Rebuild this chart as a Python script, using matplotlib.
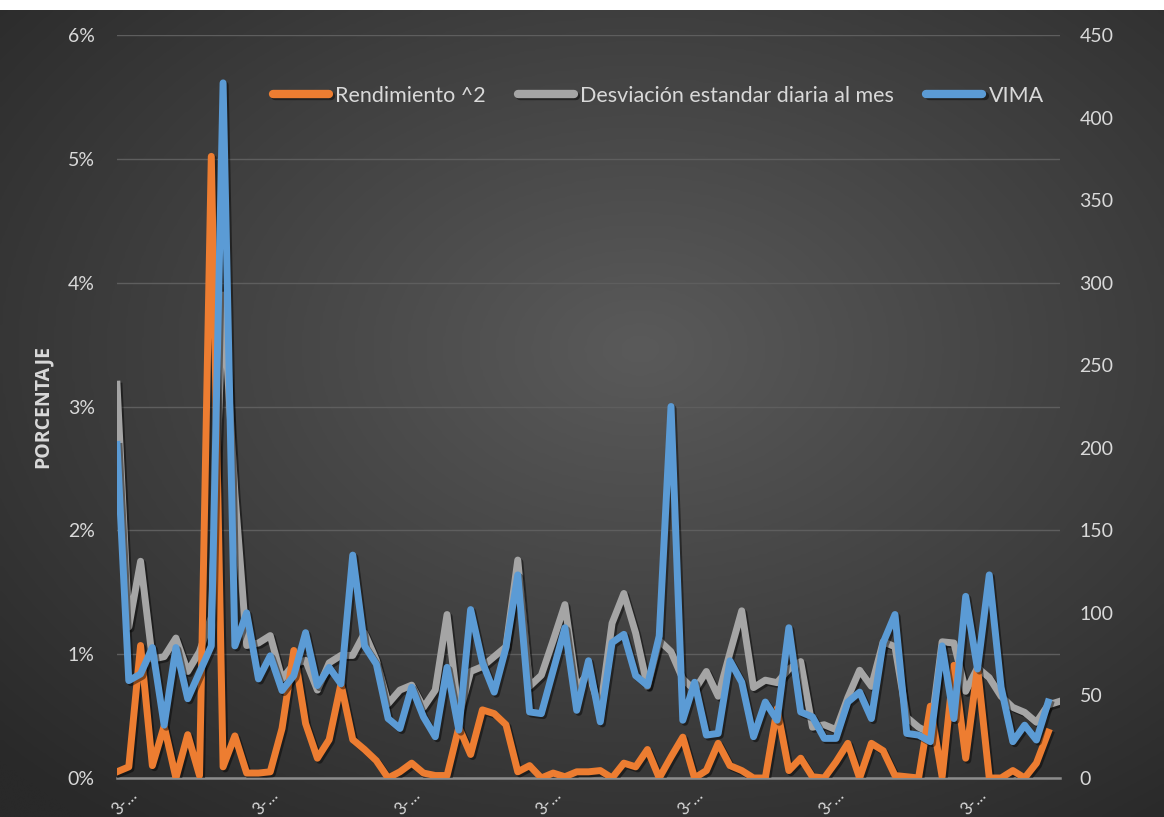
import numpy as np
import matplotlib.pyplot as plt
import matplotlib.patheffects as pe
import matplotlib.transforms as mtransforms
from matplotlib.colors import LinearSegmentedColormap
from matplotlib.ticker import FuncFormatter

# Rendimiento al cuadrado (%), eje izquierdo
rendimiento = [0.05, 0.09, 1.07, 0.10, 0.42, 0.00, 0.35, 0.02, 5.02, 0.09,
               0.34, 0.04, 0.04, 0.05, 0.40, 1.03, 0.44, 0.16, 0.31, 0.76,
               0.31, 0.23, 0.14, 0.00, 0.05, 0.12, 0.04, 0.02, 0.02, 0.41,
               0.19, 0.55, 0.52, 0.43, 0.05, 0.10, 0.00, 0.04, 0.01, 0.05,
               0.05, 0.06, 0.00, 0.12, 0.09, 0.23, 0.00, 0.17, 0.33, 0.00,
               0.06, 0.28, 0.10, 0.06, 0.00, 0.00, 0.56, 0.06, 0.16, 0.01,
               0.00, 0.13, 0.28, 0.00, 0.28, 0.22, 0.02, 0.01, 0.00, 0.58,
               0.01, 0.91, 0.16, 0.89, 0.00, 0.00, 0.06, 0.00, 0.12, 0.37]

# Desviacion estandar diaria al mes (%), eje izquierdo
desviacion = [3.18, 1.22, 1.75, 0.96, 0.98, 1.13, 0.86, 1.02, 1.30, 3.90,
              2.30, 1.07, 1.09, 1.15, 0.80, 0.92, 0.95, 0.71, 0.93, 0.99,
              0.99, 1.17, 0.95, 0.60, 0.71, 0.75, 0.57, 0.71, 1.32, 0.50,
              0.86, 0.90, 0.98, 1.06, 1.76, 0.74, 0.83, 1.11, 1.40, 0.73,
              0.85, 0.55, 1.25, 1.49, 1.17, 0.74, 1.11, 1.02, 0.80, 0.71,
              0.86, 0.66, 1.01, 1.35, 0.73, 0.79, 0.77, 0.88, 0.94, 0.41,
              0.43, 0.39, 0.65, 0.87, 0.74, 1.10, 1.06, 0.49, 0.41, 0.36,
              1.10, 1.09, 0.70, 0.89, 0.81, 0.66, 0.57, 0.53, 0.45, 0.59,
              0.62]

# VIMA, eje derecho
vima = [202, 59, 63, 79, 32, 79, 48, 64, 80, 421,
        80, 100, 60, 74, 53, 62, 88, 56, 67, 57,
        135, 80, 69, 36, 30, 55, 37, 25, 67, 29,
        102, 70, 52, 79, 123, 40, 39, 65, 91, 41,
        71, 34, 82, 87, 62, 56, 86, 225, 35, 58,
        26, 27, 71, 58, 25, 46, 35, 91, 40, 37,
        24, 24, 46, 52, 36, 82, 99, 27, 26, 22,
        80, 36, 110, 66, 123, 55, 22, 32, 23, 46]

etiquetas_x = ['3-…'] * 7
nombres = ['Rendimiento ^2', 'Desviación estandar diaria al mes', 'VIMA']
colores = ['#ED7D31', '#A5A5A5', '#5B9BD5']
texto = '#D9D9D9'

plt.rcParams['font.family'] = ['Lato', 'DejaVu Sans']

W, H = 1164, 817
fig = plt.figure(figsize=(W / 100, H / 100), dpi=100, facecolor='white')

# fondo oscuro con degradado radial
bg = fig.add_axes([0, 0, 1, (H - 10) / H])
yy, xx = np.mgrid[0:1:300j, 0:1:450j]
r = np.sqrt(((xx - 0.55) / 0.75) ** 2 + ((yy - 0.42) / 0.75) ** 2)
fondo = LinearSegmentedColormap.from_list('fondo', ['#5A5A5A', '#292929'])
bg.imshow(np.clip(r, 0, 1), cmap=fondo, aspect='auto', extent=[0, 1, 0, 1],
          vmin=0, vmax=1, interpolation='bicubic')
bg.axis('off')

ax = fig.add_axes([117 / W, 1 - 778 / H, (1060 - 117) / W, (778 - 35) / H])
ax.patch.set_alpha(0)
ax2 = ax.twinx()

sombra = [pe.SimpleLineShadow(offset=(1.5, -1.5), shadow_color='black', alpha=0.45),
          pe.Normal()]

x = np.arange(len(desviacion))
l1, = ax.plot(x[:len(rendimiento)], rendimiento, color=colores[0], lw=5,
              solid_joinstyle='round', path_effects=sombra, zorder=3)
l2, = ax.plot(x, desviacion, color=colores[1], lw=5,
              solid_joinstyle='round', path_effects=sombra, zorder=2)
l3, = ax2.plot(x[:len(vima)], vima, color=colores[2], lw=5,
               solid_joinstyle='round', path_effects=sombra, zorder=3)

ax.set_xlim(0, len(desviacion) - 1)
ax.set_ylim(0, 6)
ax2.set_ylim(0, 450)
ax.set_yticks(range(7))
ax.yaxis.set_major_formatter(FuncFormatter(lambda v, p: f'{v:.0f}%'))
ax2.set_yticks(range(0, 451, 50))

ax.grid(axis='y', color='#5E5E5E', lw=1)
ax.set_axisbelow(True)
for a in (ax, ax2):
    for s in a.spines.values():
        s.set_visible(False)
ax.spines['bottom'].set_visible(True)
ax.spines['bottom'].set_color('#8C8C8C')
ax.spines['bottom'].set_linewidth(1.8)

ax.tick_params(axis='y', length=0, pad=16, labelsize=14, labelcolor=texto)
ax2.tick_params(axis='y', length=0, pad=14, labelsize=14, labelcolor=texto)

# etiquetas de fecha inclinadas, corridas un poco a la derecha de cada marca
ax.set_xticks(x[::12])
ax.set_xticklabels(etiquetas_x, rotation=45, ha='right', rotation_mode='anchor')
ax.tick_params(axis='x', length=0, pad=6, labelsize=12, labelcolor=texto)
desplaza = mtransforms.ScaledTranslation(12 / 100, 0, fig.dpi_scale_trans)
for lab in ax.get_xticklabels():
    lab.set_transform(lab.get_transform() + desplaza)

fig.text(43 / W, 1 - 407 / H, 'PORCENTAJE', rotation=90, ha='center',
         va='center', fontsize=14, fontweight='bold', color=texto,
         family=['Open Sans', 'DejaVu Sans'])

leg = ax.legend([l1, l2, l3], nombres, loc='center', ncol=3, frameon=False,
                bbox_to_anchor=(0.574, 0.918), fontsize=15.5, handlelength=2.6,
                handletextpad=0.3, columnspacing=1.5)
for t in leg.get_texts():
    t.set_color(texto)
for h in leg.get_lines():
    h.set_linewidth(6)
    h.set_solid_capstyle('round')
leg.set_zorder(5)

fig.savefig('out.png', dpi=100, facecolor='white')
